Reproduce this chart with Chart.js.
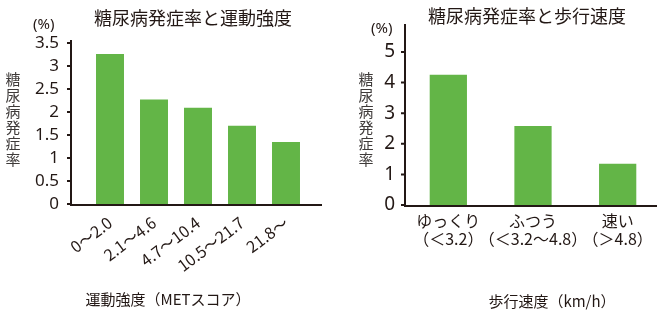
<!DOCTYPE html>
<html>
<head>
<meta charset="utf-8">
<script src="https://cdn.jsdelivr.net/npm/chart.js@4.4.1/dist/chart.umd.min.js"></script>
<style>
  html, body { margin: 0; padding: 0; background: #fff; }
  #wrap { position: relative; width: 662px; height: 312px; overflow: hidden;
          font-family: "Noto Sans CJK JP", "Noto Sans", sans-serif; color: #231815; }
  canvas { position: absolute; top: 0; }
  .t { position: absolute; white-space: nowrap; line-height: 1; }
  .title { font-size: 18px; transform: translate(-50%, -50%); }
  .pct { font-size: 15px; transform: translateY(-50%); font-family: "Noto Sans", sans-serif; }
  .vlab { font-size: 15px; writing-mode: vertical-rl; letter-spacing: 1px; color: #3e3a39; transform: translateX(-50%); }
  .xtitle { font-size: 15px; transform: translate(-50%, -50%); }
</style>
</head>
<body>
<div id="wrap">
  <canvas id="c1" width="340" height="312" style="left:0"></canvas>
  <canvas id="c2" width="322" height="312" style="left:340px"></canvas>

  <div class="t title" style="left:193px;top:17px">糖尿病発症率と運動強度</div>
  <div class="t pct" style="left:33px;top:23px">(%)</div>
  <div class="t vlab" style="left:13px;top:72px">糖尿病発症率</div>
  <div class="t xtitle" style="left:168px;top:298px">運動強度（METスコア）</div>

  <div class="t title" style="left:527px;top:15px">糖尿病発症率と歩行速度</div>
  <div class="t pct" style="left:371px;top:27px">(%)</div>
  <div class="t vlab" style="left:366px;top:72px">糖尿病発症率</div>
  <div class="t xtitle" style="left:552px;top:300px">歩行速度（km/h）</div>
</div>
<script>
// 運動強度 (METスコア) 別の糖尿病発症率
const intensityLabels = ['0～2.0', '2.1～4.6', '4.7～10.4', '10.5～21.7', '21.8～'];
const intensityRates = [3.26, 2.27, 2.09, 1.70, 1.35];
const intensityTicks = [0, 0.5, 1, 1.5, 2, 2.5, 3, 3.5];

// 歩行速度別の糖尿病発症率
const speedLabels = [['ゆっくり', '（＜3.2）'], ['ふつう', '（＜3.2～4.8）'], ['速い', '（＞4.8）']];
const speedRates = [4.26, 2.58, 1.35];
const speedTicks = [0, 1, 2, 3, 4, 5];

const BAR = '#63b547';
const INK = '#231815';

// axis lines drawn a little apart from the plot area, like the original
const axisLines = {
    id: 'axisLines',
    afterDatasetsDraw(chart, args, opts) {
        const { ctx, chartArea: a, scales: { y } } = chart;
        const x0 = a.left - opts.gap;
        ctx.save();
        ctx.strokeStyle = INK;
        ctx.lineWidth = 2;
        ctx.beginPath();
        ctx.moveTo(x0, a.top - opts.over);
        ctx.lineTo(x0, a.bottom + 2);
        ctx.moveTo(x0 - 1, a.bottom + 1);
        ctx.lineTo(a.right + opts.ext, a.bottom + 1);
        y.ticks.forEach(t => {
            const py = y.getPixelForValue(t.value);
            ctx.moveTo(x0 - 4, py);
            ctx.lineTo(x0, py);
        });
        ctx.stroke();
        ctx.restore();
    }
};

function makeChart(id, cfg) {
    return new Chart(document.getElementById(id), {
        type: 'bar',
        data: {
            labels: cfg.labels,
            datasets: [{
                data: cfg.values,
                backgroundColor: BAR,
                borderWidth: 0,
                barPercentage: cfg.barPct,
                categoryPercentage: 1
            }]
        },
        options: {
            responsive: false,
            devicePixelRatio: 1,
            animation: false,
            layout: { padding: cfg.padding },
            plugins: {
                legend: { display: false },
                tooltip: { enabled: false },
                axisLines: cfg.axis
            },
            scales: {
                x: {
                    grid: { display: false, drawTicks: false },
                    border: { display: false },
                    ticks: {
                        color: INK,
                        font: { family: '"Noto Sans CJK JP", sans-serif', size: cfg.xFont, lineHeight: cfg.xLine },
                        padding: cfg.xPad,
                        maxRotation: cfg.rot,
                        minRotation: cfg.rot,
                        autoSkip: false
                    },
                    afterFit: s => { s.height = cfg.xHeight; }
                },
                y: {
                    min: 0,
                    max: cfg.ticks[cfg.ticks.length - 1],
                    grid: { display: false, drawTicks: false },
                    border: { display: false },
                    afterBuildTicks: s => { s.ticks = cfg.ticks.map(v => ({ value: v })); },
                    ticks: {
                        color: INK,
                        font: { family: '"Noto Sans", sans-serif', size: cfg.yFont },
                        padding: cfg.yPad,
                        autoSkip: false,
                        callback: v => String(v)
                    },
                    afterFit: s => { s.width = cfg.yWidth; }
                }
            }
        },
        plugins: [axisLines]
    });
}

makeChart('c1', {
    labels: intensityLabels,
    values: intensityRates,
    ticks: intensityTicks,
    barPct: 0.636,
    padding: { top: 43, right: 32, bottom: 0, left: 0 },
    yWidth: 88, yPad: 29, yFont: 17,
    xHeight: 108, xPad: 9, xFont: 16, xLine: 1.2, rot: 37,
    axis: { gap: 17, over: 3, ext: 14 }
});

makeChart('c2', {
    labels: speedLabels,
    values: speedRates,
    ticks: speedTicks,
    barPct: 0.44,
    padding: { top: 52, right: 2, bottom: 0, left: 0 },
    yWidth: 66, yPad: 11, yFont: 19,
    xHeight: 107, xPad: 7, xFont: 16, xLine: '18px', rot: 0,
    axis: { gap: 1, over: 28, ext: -3 }
});
</script>
</body>
</html>
